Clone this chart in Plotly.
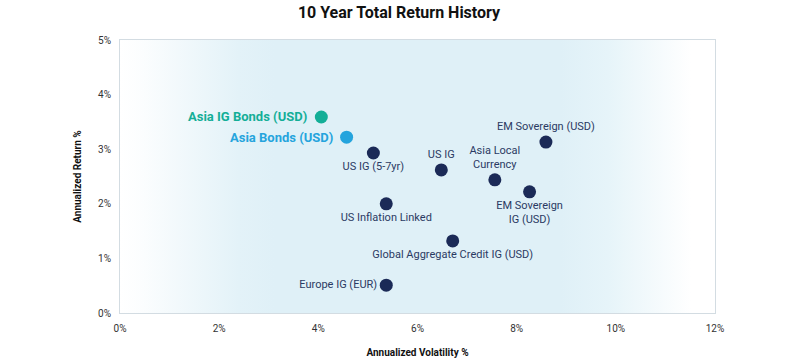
import plotly.graph_objects as go

# Data
names = ["US IG (5-7yr)", "US IG", "Asia Local<br>Currency", "EM Sovereign (USD)",
         "EM Sovereign<br>IG (USD)", "US Inflation Linked",
         "Global Aggregate Credit IG (USD)", "Europe IG (EUR)"]
vol = [5.11, 6.48, 7.56, 8.59, 8.26, 5.37, 6.71, 5.37]
ret = [2.93, 2.62, 2.44, 3.13, 2.22, 2.00, 1.32, 0.51]
positions = ["bottom center", "top center", "top center", "top center",
             "bottom center", "bottom center", "bottom center", "middle left"]

hl_names = ["Asia IG Bonds (USD)", "Asia Bonds (USD)"]
hl_vol = [4.06, 4.57]
hl_ret = [3.59, 3.22]
hl_colors = ["#13ae97", "#25a4dd"]

x_ticks = [0, 2, 4, 6, 8, 10, 12]
y_ticks = [0, 1, 2, 3, 4, 5]

navy = "#1b2a57"
font = "Roboto"

fig = go.Figure()

# background gradient panel
fig.add_trace(go.Scatter(
    x=[0, 12, 12, 0, 0], y=[0, 0, 5, 5, 0], mode="lines", fill="toself",
    line=dict(width=0), hoverinfo="skip", showlegend=False,
    fillgradient=dict(type="horizontal", colorscale=[
        [0, "#ffffff"], [0.04, "#fbfdfe"], [0.2, "#e3f2f8"], [0.26, "#dff0f7"],
        [0.74, "#dff0f7"], [0.82, "#e6f4f9"], [0.96, "#ffffff"], [1, "#ffffff"]]),
))

fig.add_trace(go.Scatter(
    x=vol, y=ret, mode="markers+text", text=names, textposition=positions,
    marker=dict(size=13, color=navy), showlegend=False,
    textfont=dict(family=font, size=11, color="#2b3a63"), cliponaxis=False,
))

for n, xv, yv, c in zip(hl_names, hl_vol, hl_ret, hl_colors):
    fig.add_trace(go.Scatter(
        x=[xv], y=[yv], mode="markers", marker=dict(size=13, color=c),
        showlegend=False, cliponaxis=False,
    ))
    fig.add_annotation(
        x=xv, y=yv, text="<b>" + n + "</b>", showarrow=False,
        xanchor="right", yanchor="middle", xshift=-12,
        font=dict(family=font, size=13, color=c),
    )

fig.update_layout(
    width=798, height=360,
    margin=dict(l=120, r=83, t=40, b=47),
    paper_bgcolor="white", plot_bgcolor="white",
    title=dict(text="<b>10 Year Total Return History</b>", x=0.5, xanchor="center",
               yref="container", y=0.98, yanchor="top", pad=dict(t=0),
               font=dict(family=font, size=16, color="#111111")),
    font=dict(family=font, size=10, color="#333333"),
)
fig.update_xaxes(
    range=[0, 12], tickvals=x_ticks, ticktext=[f"{v}%" for v in x_ticks],
    showgrid=False, zeroline=False, showline=True, mirror=True,
    linecolor="#d3dce2", linewidth=1, automargin=False,
    ticks="outside", ticklen=6, tickcolor="rgba(0,0,0,0)",
    title=dict(text="<b>Annualized Volatility %</b>", font=dict(size=10, color="#111111"),
               standoff=15),
    tickfont=dict(size=10, color="#333333"),
)
fig.update_yaxes(
    range=[0, 5], tickvals=y_ticks, ticktext=[f"{v}%" for v in y_ticks],
    showgrid=False, zeroline=False, showline=True, mirror=True,
    linecolor="#d3dce2", linewidth=1, automargin=False,
    ticks="outside", ticklen=6, tickcolor="rgba(0,0,0,0)",
    title=dict(text="<b>Annualized Return %</b>", font=dict(size=10, color="#111111"),
               standoff=14),
    tickfont=dict(size=10, color="#333333"),
)

fig.write_html("out.html", config={"displayModeBar": False},
               post_script="document.body.style.margin='0';")
